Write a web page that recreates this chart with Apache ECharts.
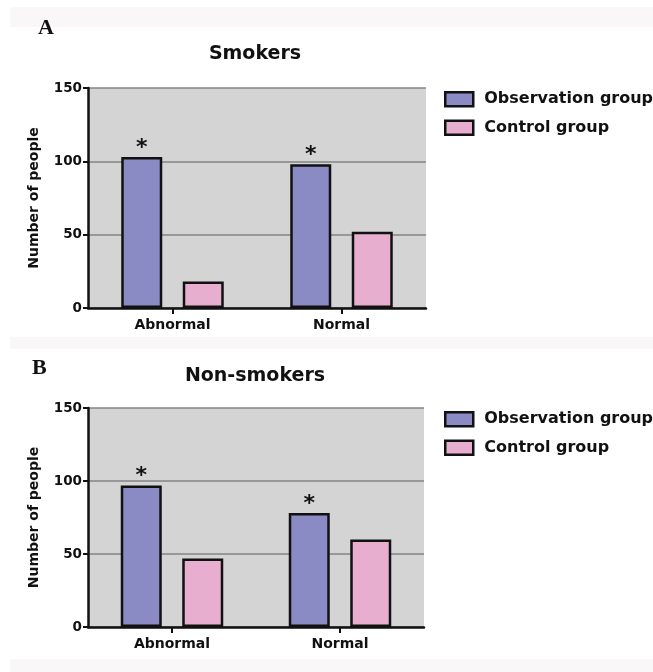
<!DOCTYPE html>
<html>
<head>
<meta charset="utf-8">
<script src="https://cdn.jsdelivr.net/npm/echarts@6/dist/echarts.min.js"></script>
<style>
html,body{margin:0;padding:0;background:#fff;}
#chart{width:653px;height:672px;}
</style>
</head>
<body>
<div id="chart"></div>
<script>
var categories = ['Abnormal', 'Normal'];
var seriesNames = ['Observation group', 'Control group'];
var obsSmokers = [103, 98];
var ctrlSmokers = [18, 52];
var obsNonSmokers = [97, 78];
var ctrlNonSmokers = [47, 60];
var starMarks = ['*', '*'];
var panelTitles = ['Smokers', 'Non-smokers'];
var panelLetters = ['A', 'B'];
var yTicks = [0, 50, 100, 150];

var FONT = 'DejaVu Sans';
var OBS_COLOR = '#8a8ac4';
var CTRL_COLOR = '#e8aed0';

var chart = echarts.init(document.getElementById('chart'));

function yAxisOf(gridIndex) {
  return {
    type: 'value', gridIndex: gridIndex,
    min: yTicks[0], max: yTicks[yTicks.length - 1], interval: yTicks[1] - yTicks[0],
    name: 'Number of people', nameLocation: 'middle', nameGap: 47,
    nameTextStyle: { fontFamily: FONT, fontWeight: 'bold', fontSize: 14, color: '#111' },
    axisLine: { show: true, lineStyle: { color: '#111', width: 2.5 } },
    axisTick: { show: true, length: 5, lineStyle: { color: '#111', width: 2 } },
    axisLabel: { fontFamily: FONT, fontWeight: 'bold', fontSize: 13.5, color: '#111', margin: 6 },
    splitLine: { show: true, lineStyle: { color: '#858585', width: 1.5 } }
  };
}
function xAxisOf(gridIndex) {
  return {
    type: 'category', gridIndex: gridIndex, data: categories,
    axisLine: { show: true, lineStyle: { color: '#111', width: 2.5 } },
    axisTick: { show: true, alignWithLabel: true, length: 6, lineStyle: { color: '#111', width: 2 } },
    axisLabel: { fontFamily: FONT, fontWeight: 'bold', fontSize: 14, color: '#111', margin: 10 }
  };
}
function barSeries(name, data, xi, color, stars) {
  var s = {
    name: name, type: 'bar', xAxisIndex: xi, yAxisIndex: xi,
    data: data, barWidth: 41, barGap: '50%',
    itemStyle: { color: color, borderColor: '#111', borderWidth: 2.5 },
    emphasis: { disabled: true }
  };
  if (stars) {
    s.label = {
      show: true, position: 'top', distance: -2,
      formatter: function (p) { return stars[p.dataIndex]; },
      fontFamily: FONT, fontWeight: 'bold', fontSize: 22, color: '#111'
    };
  }
  return s;
}
function legendOf(top) {
  return {
    data: seriesNames, orient: 'vertical', left: 444, top: top, padding: 0,
    icon: 'rect', itemWidth: 28, itemHeight: 14, itemGap: 12,
    selectedMode: false,
    itemStyle: { borderColor: '#111', borderWidth: 2.5 },
    textStyle: { fontFamily: FONT, fontWeight: 'bold', fontSize: 16, color: '#111', padding: [0, 0, 0, 6] }
  };
}

var option = {
  backgroundColor: '#ffffff',
  animation: false,
  graphic: [
    { type: 'rect', shape: { x: 10, y: 7, width: 643, height: 20 }, style: { fill: '#f9f7f7' }, z: -10 },
    { type: 'rect', shape: { x: 10, y: 337, width: 643, height: 12 }, style: { fill: '#f9f7f7' }, z: -10 },
    { type: 'rect', shape: { x: 10, y: 659, width: 643, height: 13 }, style: { fill: '#f9f7f7' }, z: -10 },
    { type: 'text', left: 38, top: 17, style: { text: panelLetters[0], font: 'bold 22px "Liberation Serif"', fill: '#111' } },
    { type: 'text', left: 32, top: 357, style: { text: panelLetters[1], font: 'bold 22px "Liberation Serif"', fill: '#111' } }
  ],
  title: [
    { text: panelTitles[0], left: 250, top: 40, textAlign: 'center',
      textStyle: { fontFamily: FONT, fontWeight: 'bold', fontSize: 19, color: '#111' } },
    { text: panelTitles[1], left: 250, top: 362, textAlign: 'center',
      textStyle: { fontFamily: FONT, fontWeight: 'bold', fontSize: 19, color: '#111' } }
  ],
  legend: [legendOf(91), legendOf(411)],
  grid: [
    { left: 88, top: 88, width: 338, height: 220, show: true, backgroundColor: '#d4d4d4', borderWidth: 0, containLabel: false },
    { left: 88, top: 408, width: 336, height: 219, show: true, backgroundColor: '#d4d4d4', borderWidth: 0, containLabel: false }
  ],
  xAxis: [xAxisOf(0), xAxisOf(1)],
  yAxis: [yAxisOf(0), yAxisOf(1)],
  series: [
    barSeries(seriesNames[0], obsSmokers, 0, OBS_COLOR, starMarks),
    barSeries(seriesNames[1], ctrlSmokers, 0, CTRL_COLOR, null),
    barSeries(seriesNames[0], obsNonSmokers, 1, OBS_COLOR, starMarks),
    barSeries(seriesNames[1], ctrlNonSmokers, 1, CTRL_COLOR, null)
  ]
};
chart.setOption(option);
</script>
</body>
</html>
